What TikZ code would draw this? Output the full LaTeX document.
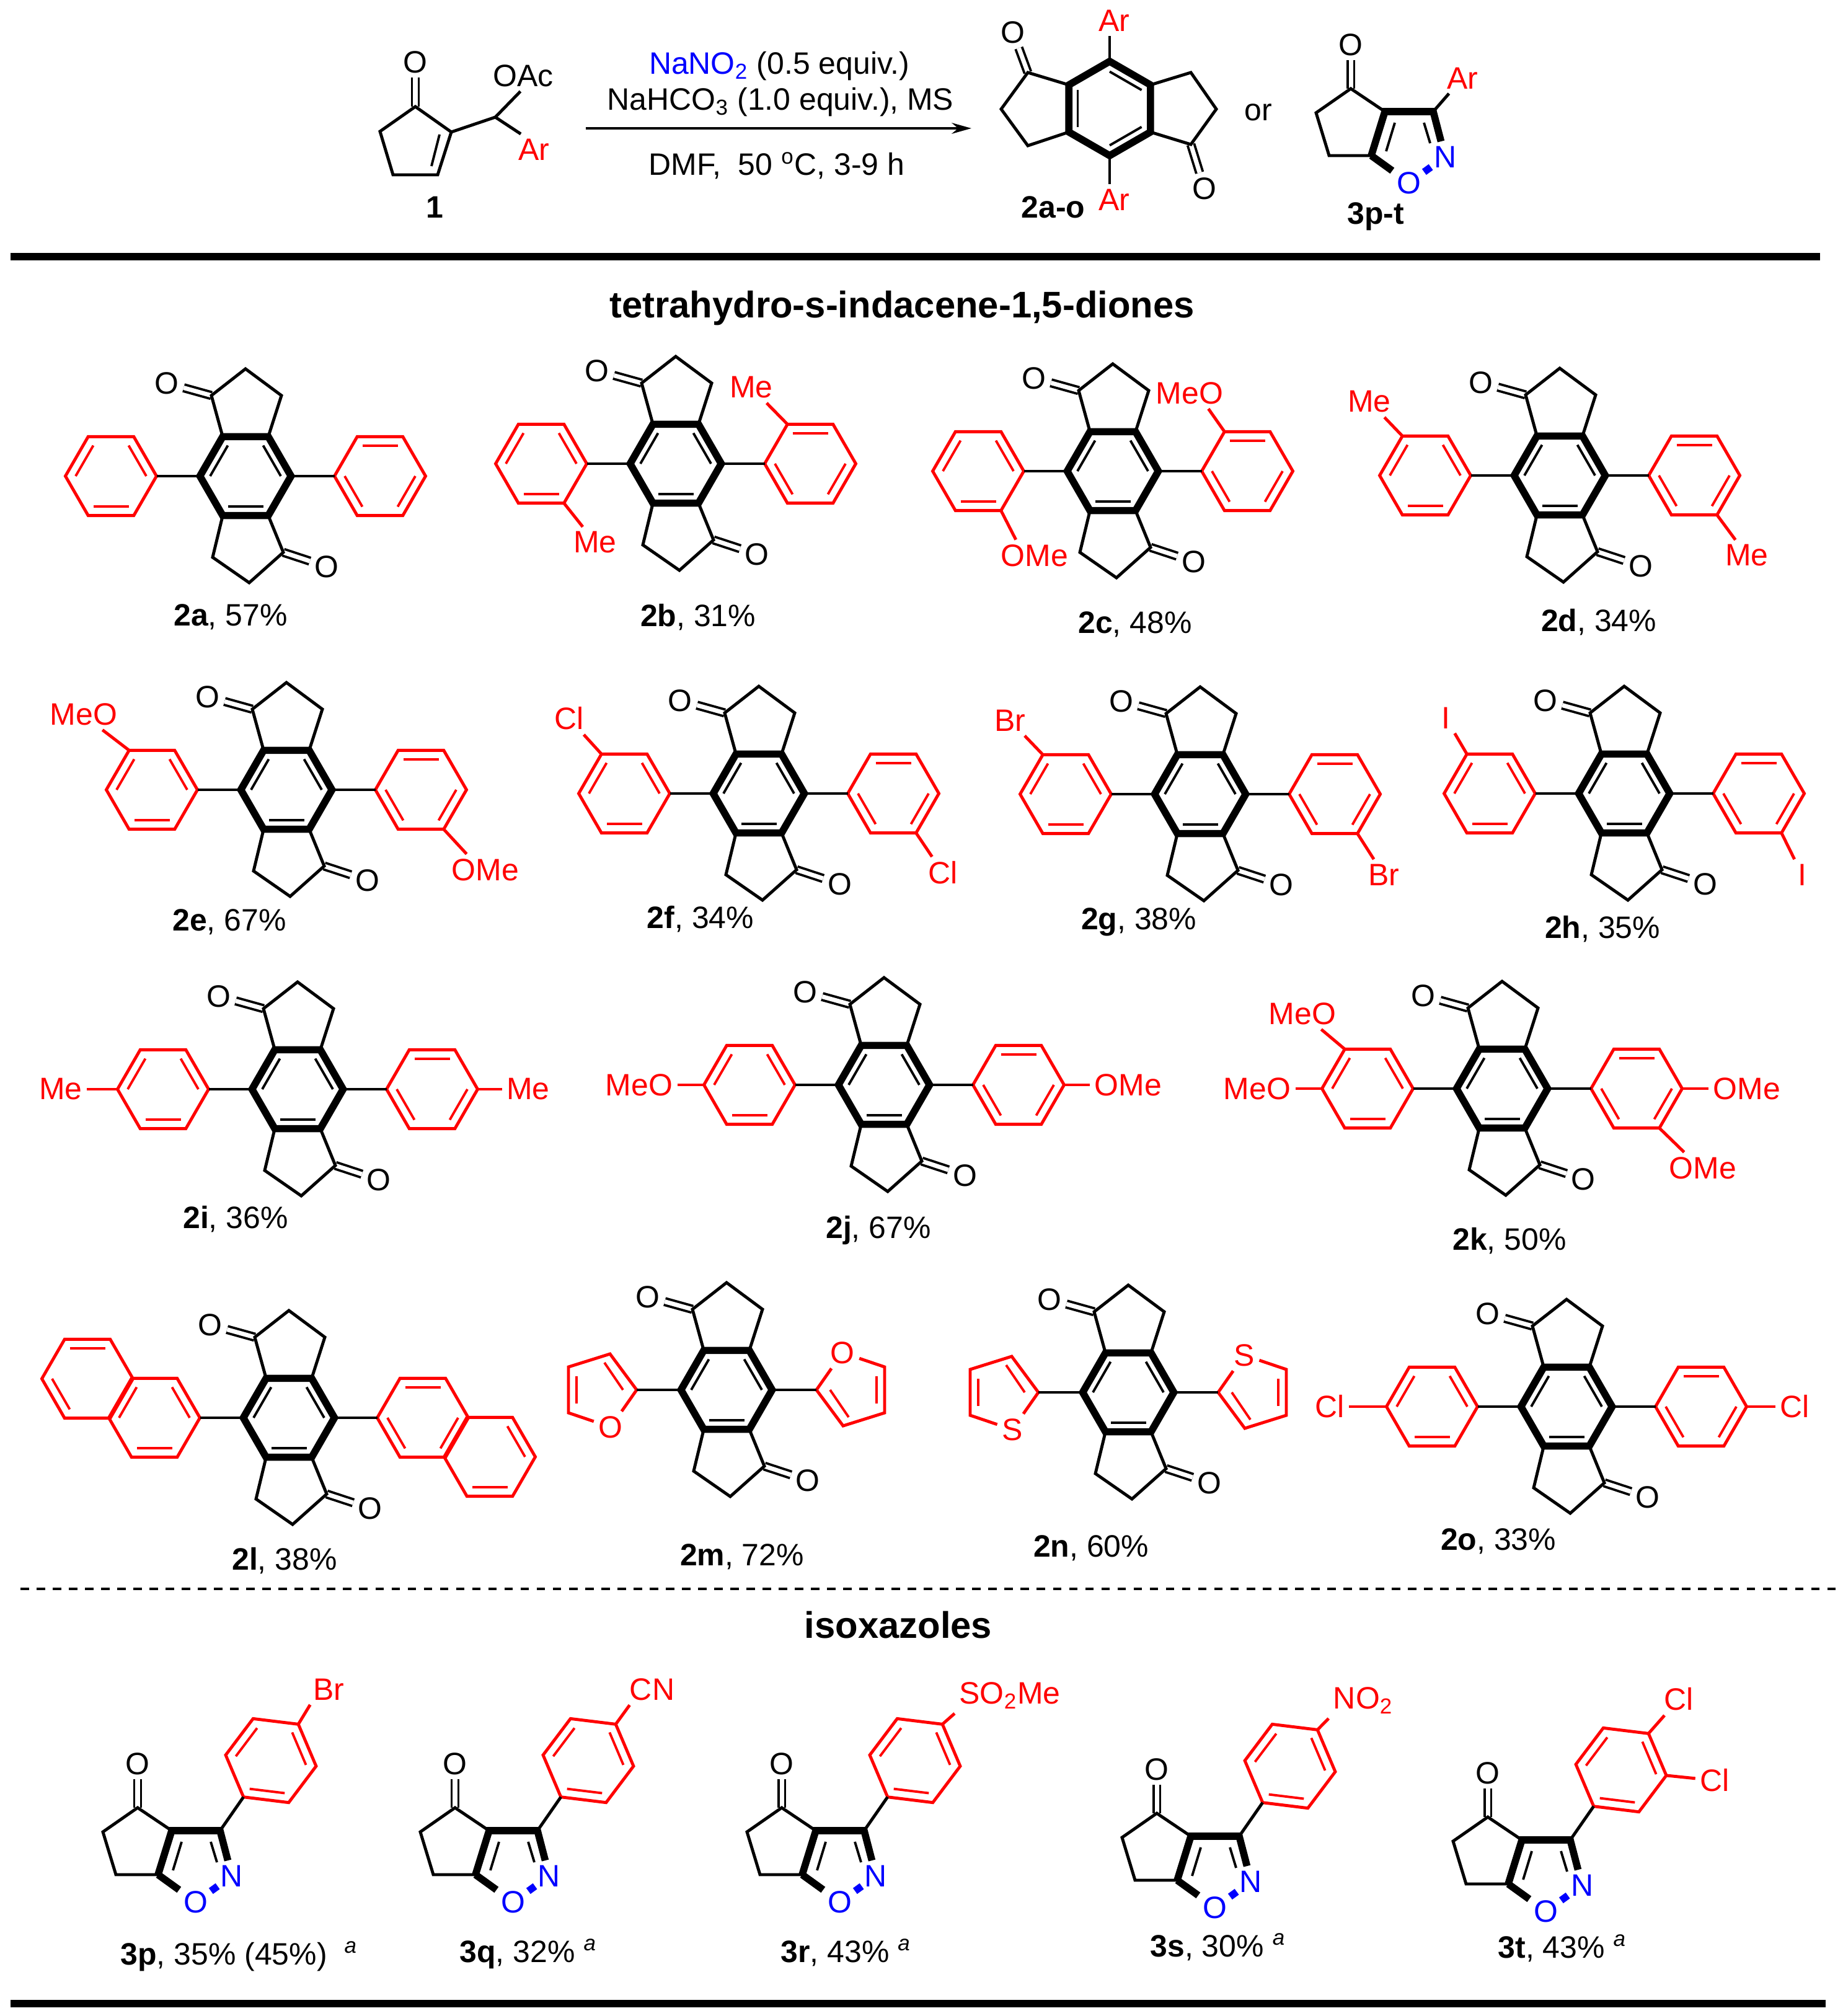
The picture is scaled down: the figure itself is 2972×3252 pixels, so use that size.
\documentclass[tikz,border=0pt]{standalone}
\usepackage{fontspec}
\setmainfont{Liberation Sans}
\usepackage{tikz}
\usetikzlibrary{arrows.meta}

\tikzset{
	bond/.style={line width=1.4pt},
	corebond/.style={line width=3.3pt},
	redbond/.style={red, line width=1.4pt},
	innerbond/.style={line width=1.1pt},
	cobond/.style={line width=1.1pt, double, double distance=2pt},
	atom/.style={inner sep=2pt, font=\fontsize{14.2}{16}\selectfont},
	redatom/.style={atom, red},
	hetero/.style={atom, blue},
	yield/.style={anchor=base, inner sep=0pt, font=\fontsize{14.2}{16}\selectfont},
	yieldw/.style={yield, anchor=base west},
	heading/.style={inner sep=0pt, font=\fontsize{17}{20}\selectfont\bfseries},
}

% name, x, y, rotation, inner edges, style
\newcommand{\hexring}[7][73.5]{
	\begin{scope}[shift={(#3,#4)}]
		\foreach \nn in {0,...,5}{
			\coordinate (#2-\nn) at (#5+60*\nn:#1);
		}
		\draw[#7] (#2-0) -- (#2-1) -- (#2-2) -- (#2-3) -- (#2-4) -- (#2-5) -- cycle;
		\foreach \nn in {#6}{
			\draw[#7, innerbond] (#5+60*\nn:#1-16.5) -- (#5+60*\nn+60:#1-16.5);
		}
	\end{scope}
}

\newcommand{\indacene}[3]{
	\begin{scope}[shift={(#2,#3)}]
		\node (#1-o1) [atom] at (-127,-150) {O};
		\node (#1-o2) [atom] at (131,146) {O};
		\coordinate (#1-c1) at (-55,-130);
		\coordinate (#1-a1) at (0,-173);
		\coordinate (#1-b1) at (58,-130);
		\coordinate (#1-c2) at (61,123);
		\coordinate (#1-a2) at (6,172);
		\coordinate (#1-b2) at (-53,131);
		\draw[cobond] (#1-c1) -- (#1-o1);
		\draw[cobond] (#1-c2) -- (#1-o2);
		\hexring{#1}{0}{0}{0}{1,3,5}{corebond}
		\draw[bond] (#1-4) -- (#1-c1) -- (#1-a1) -- (#1-b1) -- (#1-5);
		\draw[bond] (#1-1) -- (#1-c2) -- (#1-a2) -- (#1-b2) -- (#1-2);
	\end{scope}
}

% core with an aryl ring on each side
\newcommand{\diaryl}[3]{
	\indacene{#1}{#2}{#3}
	\begin{scope}[shift={(#2,#3)}]
		\hexring{#1-l}{-217}{0}{0}{1,3,5}{redbond}
		\hexring{#1-r}{217}{0}{0}{0,2,4}{redbond}
		\draw[bond] (#1-3) -- (#1-l-0);
		\draw[bond] (#1-0) -- (#1-r-3);
	\end{scope}
}

\newcommand{\subst}[6]{
	\node (#1) [redatom] at (#3,#4) {#6};
	\draw[redbond] (#2) -- (#1#5);
}

% five-membered ring with one hetero atom, at the left of the core
\newcommand{\hetring}[3]{
	\begin{scope}[#3]
		\coordinate (#1-a) at (-145,0);
		\coordinate (#1-t) at (-188,-58);
		\coordinate (#1-u) at (-255,-37);
		\coordinate (#1-w) at (-255,37);
		\node (#1-x) [redatom] at (-187,60) {#2};
		\draw[redbond] (#1-x) -- (#1-a) -- (#1-t) -- (#1-u) -- (#1-w) -- (#1-x);
		\draw[redbond, innerbond] (-167,0) -- (-197,-44);
		\draw[redbond, innerbond] (-242,-22) -- (-242,22);
	\end{scope}
}

\newcommand{\isox}[3]{
	\begin{scope}[shift={(#2,#3)}]
		\node (#1-ox) [atom] at (-133,-108) {O};
		\node (#1-o) [hetero] at (-39,115) {O};
		\node (#1-n) [hetero] at (19,73) {N};
		\coordinate (#1-co) at (-133,-37);
		\coordinate (#1-a) at (-189,2);
		\coordinate (#1-b) at (-168,71);
		\coordinate (#1-c) at (-100,71);
		\coordinate (#1-d) at (-78,0);
		\coordinate (#1-e) at (0,0);
		\draw[cobond] (#1-co) -- (#1-ox);
		\draw[bond] (#1-d) -- (#1-co) -- (#1-a) -- (#1-b) -- (#1-c);
		\draw[corebond] (#1-c) -- (#1-d) -- (#1-e) -- (#1-n);
		\draw[corebond] (#1-c) -- (#1-o);
		\draw[corebond, blue, shorten <=-1pt, shorten >=-1pt] (#1-o) -- (#1-n);
		\draw[innerbond] (-62,18) -- (-76,64);
		\draw[innerbond] (-15,18) -- (-5,51);
	\end{scope}
}

\newcommand{\isoxaryl}[3]{
	\isox{#1}{#2}{#3}
	\begin{scope}[shift={(#2,#3)}]
		\hexring{#1-r}{82}{-113}{7}{1,3,5}{redbond}
		\draw[bond] (#1-e) -- (#1-r-2);
	\end{scope}
}

\begin{document}
\begin{tikzpicture}[x=0.01cm, y=-0.01cm]
	\useasboundingbox (0,0) rectangle (2972,3252);

	% reaction
	\node (s-o) [atom] at (670,100) {O};
	\node (s-oac) [atom] at (844,122) {OAc};
	\node (s-ar) [redatom] at (861,241) {Ar};
	\coordinate (s-co) at (670,172);
	\coordinate (s-a) at (613,212);
	\coordinate (s-b) at (634,282);
	\coordinate (s-c) at (706,282);
	\coordinate (s-d) at (728,213);
	\coordinate (s-e) at (799,189);
	\draw[cobond] (s-co) -- (s-o);
	\draw[bond] (s-d) -- (s-co) -- (s-a) -- (s-b) -- (s-c) -- (s-d) -- (s-e) -- (s-oac.-100);
	\draw[bond] (s-e) -- (s-ar.130);
	\draw[innerbond] (709,217) -- (696,268);
	\node (s-label) [yield] at (701,352) {\textbf{1}};

	\node (reag1) [yield] at (1257,120) {\textcolor{blue}{NaNO\textsubscript{2}} (0.5 equiv.)};
	\node (reag2) [yield] at (1259,178) {NaHCO\textsubscript{3} (1.0 equiv.), MS};
	\node (reag3) [yield] at (1253,283) {DMF,\ \ 50 \textsuperscript{o}C, 3-9 h};
	\coordinate (arrow-a) at (945,207);
	\coordinate (arrow-b) at (1567,207);
	\draw[line width=1.2pt, -{Stealth[length=9pt, width=5pt]}] (arrow-a) -- (arrow-b);

	\node (t-o1) [atom] at (1634,52) {O};
	\node (t-o2) [atom] at (1943,304) {O};
	\node (t-ar1) [redatom] at (1797,33) {Ar};
	\node (t-ar2) [redatom] at (1797,322) {Ar};
	\coordinate (t-c1) at (1658,117);
	\coordinate (t-a1) at (1615,176);
	\coordinate (t-b1) at (1658,235);
	\coordinate (t-c2) at (1921,233);
	\coordinate (t-a2) at (1962,176);
	\coordinate (t-b2) at (1921,117);
	\draw[cobond] (t-c1) -- (t-o1);
	\draw[cobond] (t-c2) -- (t-o2);
	\hexring[76]{t}{1790}{175}{30}{0,2,4}{corebond}
	\draw[bond] (t-3) -- (t-c1) -- (t-a1) -- (t-b1) -- (t-2);
	\draw[bond] (t-0) -- (t-c2) -- (t-a2) -- (t-b2) -- (t-5);
	\draw[bond] (t-4) -- (t-4 |- t-ar1.south);
	\draw[bond] (t-1) -- (t-1 |- t-ar2.north);
	\node (t-label) [yield] at (1699,352) {\textbf{2a-o}};
	\node (or) [yield] at (2030,195) {or};

	\isox{u}{2312}{180}
	\node (u-ar) [redatom] at (2359,126) {Ar};
	\draw[bond] (u-e) -- (u-ar);
	\node (u-label) [yield] at (2219,362) {\textbf{3p-t}};

	\draw[line width=3.2pt] (17,414) -- (2936,414);
	\node (title1) [heading] at (1455,497) {tetrahydro-s-indacene-1,5-diones};

	% row 1
	\diaryl{a}{396}{768}
	\node (a-y) [yield] at (372,1009) {\textbf{2a}, 57\%};

	\diaryl{b}{1090}{748}
	\subst{b-me1}{b-l-1}{960}{875}{}{Me}
	\subst{b-me2}{b-r-4}{1212}{625}{}{Me}
	\node (b-y) [yield] at (1126,1010) {\textbf{2b}, 31\%};

	\diaryl{c}{1795}{760}
	\subst{c-ome}{c-l-1}{1669}{896}{.140}{OMe}
	\subst{c-meo}{c-r-4}{1919}{634}{.-40}{MeO}
	\node (c-y) [yield] at (1831,1021) {\textbf{2c}, 48\%};

	\diaryl{d}{2516}{767}
	\subst{d-me1}{d-l-4}{2209}{648}{}{Me}
	\subst{d-me2}{d-r-1}{2818}{896}{}{Me}
	\node (d-y) [yield] at (2579,1018) {\textbf{2d}, 34\%};

	% row 2
	\diaryl{e}{462}{1274}
	\subst{e-meo}{e-l-4}{135}{1152}{.-40}{MeO}
	\subst{e-ome}{e-r-1}{783}{1403}{.140}{OMe}
	\node (e-y) [yield] at (370,1501) {\textbf{2e}, 67\%};

	\diaryl{f}{1224}{1280}
	\subst{f-cl1}{f-l-4}{918}{1159}{}{Cl}
	\subst{f-cl2}{f-r-1}{1521}{1408}{}{Cl}
	\node (f-y) [yield] at (1130,1497) {\textbf{2f}, 34\%};

	\diaryl{g}{1936}{1281}
	\subst{g-br1}{g-l-4}{1629}{1162}{}{Br}
	\subst{g-br2}{g-r-1}{2232}{1411}{}{Br}
	\node (g-y) [yield] at (1837,1499) {\textbf{2g}, 38\%};

	\diaryl{h}{2620}{1280}
	\subst{h-i1}{h-l-4}{2332}{1158}{}{I}
	\subst{h-i2}{h-r-1}{2907}{1411}{}{I}
	\node (h-y) [yield] at (2585,1513) {\textbf{2h}, 35\%};

	% row 3
	\diaryl{i}{480}{1757}
	\subst{i-me1}{i-l-3}{98}{1757}{}{Me}
	\subst{i-me2}{i-r-0}{852}{1757}{}{Me}
	\node (i-y) [yield] at (380,1981) {\textbf{2i}, 36\%};

	\diaryl{j}{1426}{1750}
	\subst{j-meo}{j-l-3}{1031}{1750}{}{MeO}
	\subst{j-ome}{j-r-0}{1820}{1750}{}{OMe}
	\node (j-y) [yield] at (1417,1997) {\textbf{2j}, 67\%};

	\diaryl{k}{2423}{1756}
	\subst{k-meo1}{k-l-4}{2101}{1635}{.-40}{MeO}
	\subst{k-meo2}{k-l-3}{2028}{1756}{}{MeO}
	\subst{k-ome1}{k-r-0}{2818}{1756}{}{OMe}
	\subst{k-ome2}{k-r-1}{2747}{1884}{.140}{OMe}
	\node (k-y) [yield] at (2435,2016) {\textbf{2k}, 50\%};

	% row 4
	\indacene{l}{466}{2287}
	\begin{scope}[shift={(466,2287)}]
		\hexring{l-l}{-217}{0}{0}{1,3,5}{redbond}
		\hexring{l-m}{-325}{-63}{0}{2,4}{redbond}
		\hexring{l-r}{216}{0}{0}{0,2,4}{redbond}
		\hexring{l-s}{324}{63}{0}{1,5}{redbond}
		\draw[bond] (l-3) -- (l-l-0);
		\draw[bond] (l-0) -- (l-r-3);
	\end{scope}
	\node (l-y) [yield] at (459,2532) {\textbf{2l}, 38\%};

	\indacene{m}{1172}{2242}
	\hetring{m-f1}{O}{shift={(1172,2242)}}
	\hetring{m-f2}{O}{shift={(1172,2242)}, rotate=180}
	\draw[bond] (m-3) -- (m-f1-a);
	\draw[bond] (m-0) -- (m-f2-a);
	\node (m-y) [yield] at (1197,2525) {\textbf{2m}, 72\%};

	\indacene{n}{1820}{2246}
	\hetring{n-t1}{S}{shift={(1820,2246)}}
	\hetring{n-t2}{S}{shift={(1820,2246)}, rotate=180}
	\draw[bond] (n-3) -- (n-t1-a);
	\draw[bond] (n-0) -- (n-t2-a);
	\node (n-y) [yield] at (1760,2511) {\textbf{2n}, 60\%};

	\diaryl{o}{2527}{2269}
	\subst{o-cl1}{o-l-3}{2145}{2269}{}{Cl}
	\subst{o-cl2}{o-r-0}{2895}{2269}{}{Cl}
	\node (o-y) [yield] at (2417,2500) {\textbf{2o}, 33\%};

	\draw[line width=1.1pt, dash pattern=on 3.9pt off 3.5pt] (33,2563) -- (2965,2563);
	\node (title2) [heading] at (1449,2621) {isoxazoles};

	% isoxazoles
	\isoxaryl{p}{355}{2953}
	\subst{p-br}{p-r-5}{530}{2725}{.-140}{Br}
	\node (p-y) [yieldw] at (194,3169) {\textbf{3p}, 35\% (45\%) \ \textsuperscript{\textit{a}}};

	\isoxaryl{q}{867}{2953}
	\subst{q-cn}{q-r-5}{1052}{2725}{.-145}{CN}
	\node (q-y) [yieldw] at (741,3165) {\textbf{3q}, 32\% \textsuperscript{\textit{a}}};

	\isoxaryl{r}{1394}{2953}
	\subst{r-so}{r-r-5}{1629}{2735}{.south west}{SO\textsubscript{2}Me}
	\node (r-y) [yieldw] at (1259,3165) {\textbf{3r}, 43\% \textsuperscript{\textit{a}}};

	\isoxaryl{s}{1999}{2962}
	\subst{s-no}{s-r-5}{2199}{2743}{.south west}{NO\textsubscript{2}}
	\node (s-y) [yieldw] at (1855,3156) {\textbf{3s}, 30\% \textsuperscript{\textit{a}}};

	\isoxaryl{v}{2533}{2968}
	\subst{v-cl1}{v-r-5}{2708}{2741}{}{Cl}
	\subst{v-cl2}{v-r-0}{2766}{2872}{}{Cl}
	\node (v-y) [yieldw] at (2416,3158) {\textbf{3t}, 43\% \textsuperscript{\textit{a}}};

	\draw[line width=3.2pt] (17,3232) -- (2945,3232);
\end{tikzpicture}
\end{document}
